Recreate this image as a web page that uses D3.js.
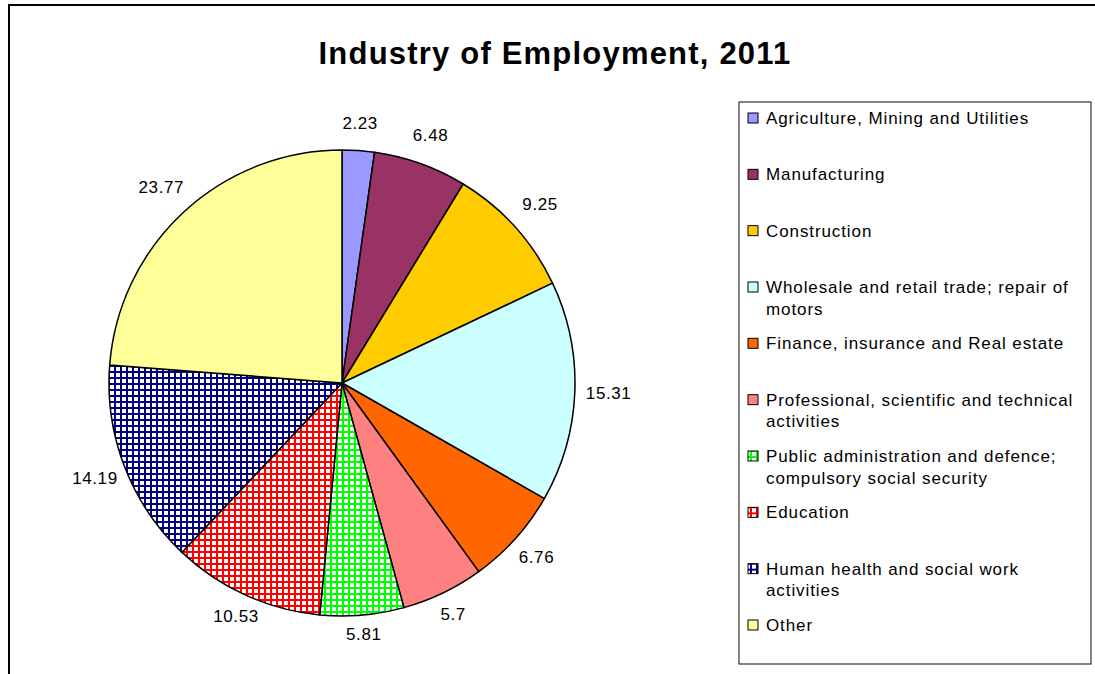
<!DOCTYPE html>
<html>
<head>
<meta charset="utf-8">
<script src="https://cdn.jsdelivr.net/npm/d3@7"></script>
<style>
  body { margin: 0; background: #fff; }
  svg { display: block; font-family: "Liberation Sans", Arial, sans-serif; }
</style>
</head>
<body>
<div id="chart"></div>
<script>
const categories = [
  'Agriculture, Mining and Utilities',
  'Manufacturing',
  'Construction',
  'Wholesale and retail trade; repair of motors',
  'Finance, insurance and Real estate',
  'Professional, scientific and technical activities',
  'Public administration and defence; compulsory social security',
  'Education',
  'Human health and social work activities',
  'Other'
]
const shares = [2.23, 6.48, 9.25, 15.31, 6.76, 5.7, 5.81, 10.53, 14.19, 23.77]
const fills = ['#9999ff', '#993366', '#ffcc00', '#ccffff', '#ff6600', '#ff8080',
               'grid:#00ff00', 'grid:#ff0000', 'grid:#000080', '#ffff99']

const width = 1095, height = 674
const cx = 342, cy = 383, radius = 233

const svg = d3.select('#chart').append('svg')
  .attr('width', width)
  .attr('height', height)

// grid hatch patterns for the three patterned slices
const defs = svg.append('defs')
fills.forEach((f, i) => {
  if (!f.startsWith('grid:')) return
  const col = f.slice(5)
  const p = defs.append('pattern')
    .attr('id', 'grid' + i)
    .attr('patternUnits', 'userSpaceOnUse')
    .attr('width', 6).attr('height', 6)
  p.append('rect').attr('width', 6).attr('height', 6).attr('fill', '#fff')
  p.append('rect').attr('width', 6).attr('height', 2).attr('fill', col)
  p.append('rect').attr('width', 2).attr('height', 6).attr('fill', col)
})
const fillFor = i => fills[i].startsWith('grid:') ? 'url(#grid' + i + ')' : fills[i]

// outer frame (right/bottom edges run off the picture)
svg.append('path')
  .attr('d', 'M9,' + (height + 5) + 'V5H' + (width + 5))
  .attr('fill', 'none').attr('stroke', '#000').attr('stroke-width', 2)

svg.append('text')
  .attr('x', 555).attr('y', 64)
  .attr('text-anchor', 'middle')
  .style('font-size', '31px').style('font-weight', 'bold')
  .style('letter-spacing', '1.2px')
  .text('Industry of Employment, 2011')

const pie = d3.pie().sort(null).value(d => d)
const arcs = pie(shares)
const arc = d3.arc().innerRadius(0).outerRadius(radius)

const picture = svg.append('g').attr('transform', 'translate(' + cx + ',' + cy + ')')

picture.selectAll('.slice')
  .data(arcs)
  .enter().append('path')
  .attr('class', 'slice')
  .attr('d', arc)
  .attr('fill', (d, i) => fillFor(i))
  .attr('stroke', '#000')
  .attr('stroke-width', 1.5)
  .attr('stroke-linejoin', 'round')

const labelDist = a => radius + 22 + 12 * Math.abs(Math.sin(a)) + 4 * Math.cos(a)

picture.selectAll('.lbl')
  .data(arcs)
  .enter().append('text')
  .attr('class', 'lbl')
  .attr('text-anchor', 'middle')
  .attr('dominant-baseline', 'central')
  .style('font-size', '17px')
  .style('letter-spacing', '0.6px')
  .attr('x', d => {
    const a = (d.startAngle + d.endAngle) / 2
    return Math.sin(a) * labelDist(a)
  })
  .attr('y', d => {
    const a = (d.startAngle + d.endAngle) / 2
    return -Math.cos(a) * labelDist(a)
  })
  .text(d => d.data)

// legend
svg.append('rect')
  .attr('x', 739).attr('y', 102)
  .attr('width', 352).attr('height', 562)
  .attr('fill', 'none').attr('stroke', '#333').attr('stroke-width', 1.2)

const legend = svg.append('g')
const rowY = d3.scaleLinear().domain([0, categories.length - 1]).range([118, 625])

categories.forEach((name, i) => {
  const g = legend.append('g').attr('transform', 'translate(0,' + rowY(i) + ')')
  g.append('rect')
    .attr('x', 748).attr('y', -5)
    .attr('width', 10).attr('height', 10)
    .attr('fill', fillFor(i))
    .attr('stroke', '#000').attr('stroke-width', 1)
  const t = g.append('text')
    .attr('x', 766)
    .attr('dominant-baseline', 'central')
    .style('font-size', '17px')
    .style('letter-spacing', '0.9px')
  // wrap the label into lines that fit the box
  const words = name.split(' ')
  let line = []
  let tspan = t.append('tspan').attr('x', 766).attr('dy', 0)
  words.forEach(w => {
    line.push(w)
    tspan.text(line.join(' '))
    if (tspan.node().getComputedTextLength() > 322 && line.length > 1) {
      line.pop()
      tspan.text(line.join(' '))
      line = [w]
      tspan = t.append('tspan').attr('x', 766).attr('dy', 21.5).text(w)
    }
  })
})
</script>
</body>
</html>
